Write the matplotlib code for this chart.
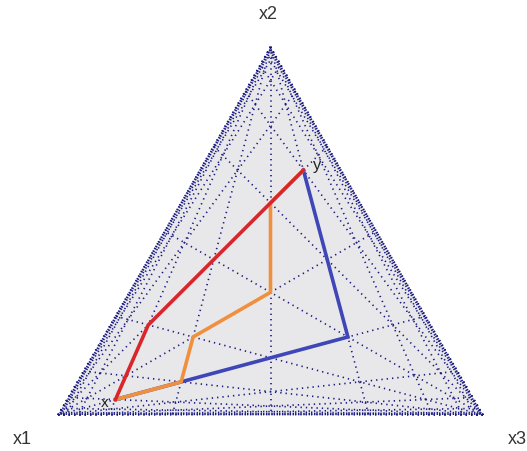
import numpy as np
import matplotlib.pyplot as plt

plt.rcParams["font.family"] = ["Liberation Sans", "DejaVu Sans"]

# corner labels of the simplex
corner_labels = ["x1", "x2", "x3"]

# paths from x to y, given as (log(x1/x3), log(x2/x3)) at each turn
red_path = [(2, -1), (2, 1), (-1, 1)]
orange_path = [(2, -1), (1, -1), (1, 0), (0, 0), (0, 1), (-1, 1)]
blue_path = [(2, -1), (-1, -1), (-1, 1)]

# log-ratio values of the grid rays through each corner
grid_levels = [-6, -5, -4, -3, -2, -1, 0, 1, 2, 3, 4, 5, 6]

H = np.sqrt(3) / 2


def closure(comp):
    comp = np.asarray(comp, dtype=float)
    return comp / comp.sum()


def alr_inv(a, b):
    return closure([np.exp(a), np.exp(b), 1.0])


def to_xy(comp):
    # x1 bottom left, x3 bottom right, x2 on top
    comp = closure(comp)
    return comp[2] + 0.5 * comp[1], H * comp[1]


def path_xy(path):
    pts = np.array([to_xy(alr_inv(a, b)) for a, b in path])
    return pts[:, 0], pts[:, 1]


fig = plt.figure(figsize=(5.27, 4.52), dpi=100)
ax = fig.add_axes([0, 0, 1, 1])
scale = 425.0
ax.set_xlim(-58 / scale, (527 - 58) / scale)
ax.set_ylim(-36 / scale, (452 - 36) / scale)
ax.axis("off")

corners = np.eye(3)
tri = np.array([to_xy(c) for c in corners])
ax.fill(tri[:, 0], tri[:, 1], color="#e8e8eb", lw=0, zorder=0)

# rays through each corner at fixed ratio of the two other parts
for i in range(3):
    j, k = [n for n in range(3) if n != i]
    for t in grid_levels:
        far = np.zeros(3)
        far[j] = np.exp(t)
        far[k] = 1.0
        p0 = to_xy(corners[i])
        p1 = to_xy(far)
        ax.plot([p0[0], p1[0]], [p0[1], p1[1]], color="#1a1a80", lw=1.2,
                linestyle=(0, (0.8, 2.4)), zorder=1)

for path, col in [(blue_path, "#3f46b8"), (orange_path, "#f0903e"), (red_path, "#d8262c")]:
    xs, ys = path_xy(path)
    ax.plot(xs, ys, color=col, lw=2.6, solid_joinstyle="miter", zorder=3)

# endpoint labels
x0, y0 = to_xy(alr_inv(*red_path[0]))
x1, y1 = to_xy(alr_inv(*red_path[-1]))
ax.text(x0 - 0.025, y0 - 0.005, "x", fontsize=11, color="#222222", ha="center", va="center", zorder=4)
ax.text(x1 + 0.033, y1 + 0.014, "y", fontsize=12, color="#222222", ha="center", va="center", zorder=4)

# corner labels
offsets = [(-0.085, -0.056), (-0.005, 0.078), (0.08, -0.056)]
for c, lab, (dx, dy) in zip(corners, corner_labels, offsets):
    cx, cy = to_xy(c)
    ax.text(cx + dx, cy + dy, lab, fontsize=13, color="#333333", ha="center", va="center")

fig.savefig("out.png", dpi=100)
